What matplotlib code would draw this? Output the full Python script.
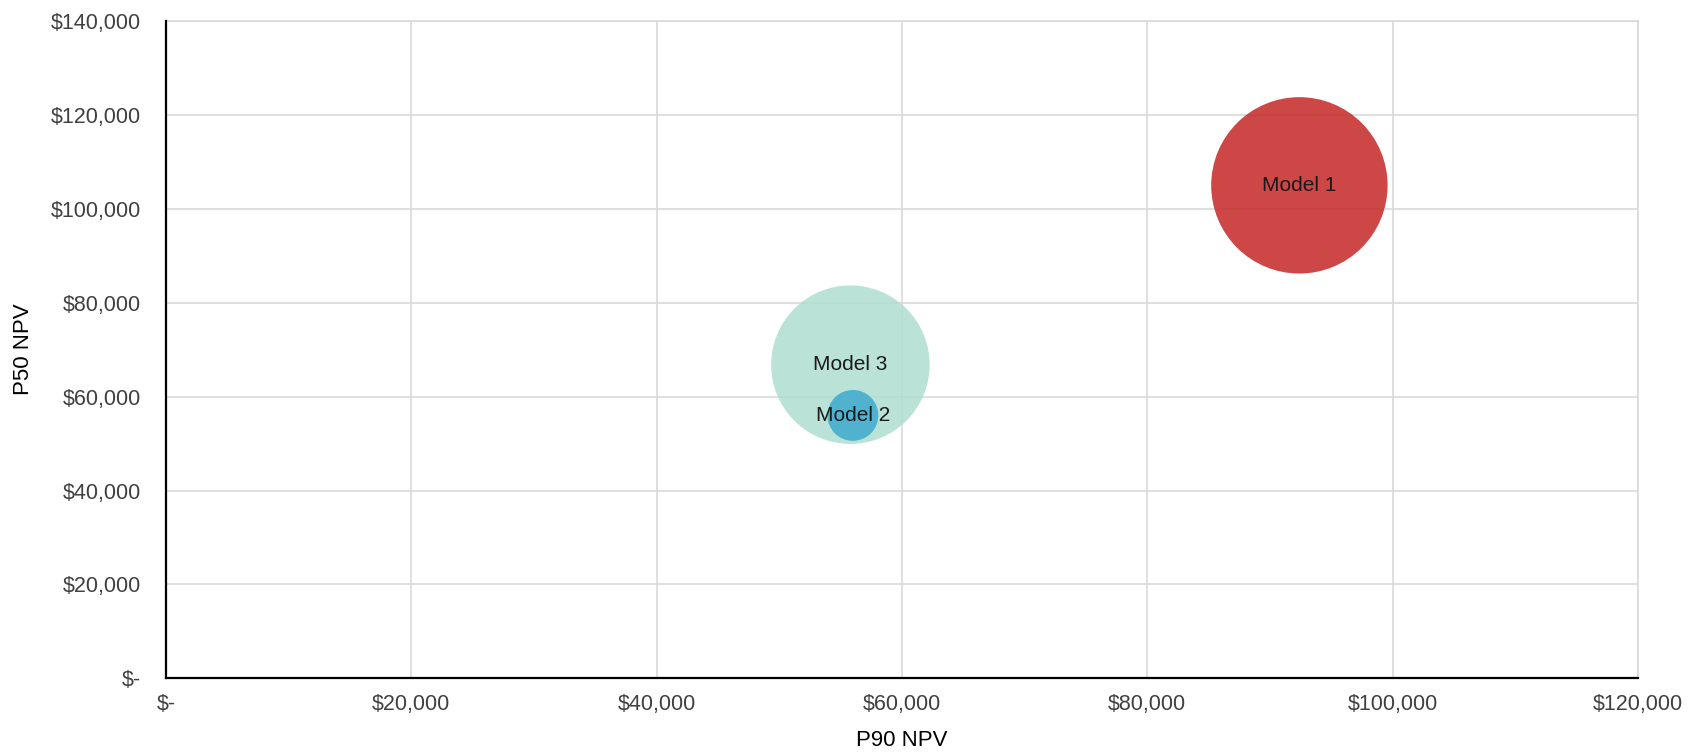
import matplotlib.pyplot as plt
from matplotlib.ticker import FuncFormatter, MultipleLocator

plt.rcParams['font.family'] = ['Liberation Sans', 'DejaVu Sans']

# bubble data: P90 NPV (x), P50 NPV (y), bubble size (relative)
models = ['Model 1', 'Model 2', 'Model 3']
p90_npv = [92400, 56000, 55800]
p50_npv = [105000, 56000, 66800]
bubble_size = [78000, 6500, 63000]
colors = ['#C52D2B', '#43ACD0', '#B2DED2']

# draw the biggest bubbles first so small ones stay visible
order = [0, 2, 1]

# largest bubble diameter in points
max_diam = 127.0
scale = max_diam ** 2 / max(bubble_size)


def money(v, pos=None):
    if v == 0:
        return '$-'
    return '${:,.0f}'.format(v)


fig = plt.figure(figsize=(17, 7.54), dpi=100)
ax = fig.add_axes([0.0976, 0.1004, 0.8659, 0.8717])

for i in order:
    ax.scatter(p90_npv[i], p50_npv[i], s=bubble_size[i] * scale,
               color=colors[i], alpha=0.88, edgecolors='none', zorder=3)
for i in order:
    ax.text(p90_npv[i], p50_npv[i], models[i], ha='center', va='center',
            fontsize=15, color='#1a1a1a', zorder=4)

ax.set_xlim(0, 120000)
ax.set_ylim(0, 140000)
ax.xaxis.set_major_locator(MultipleLocator(20000))
ax.yaxis.set_major_locator(MultipleLocator(20000))
ax.xaxis.set_major_formatter(FuncFormatter(money))
ax.yaxis.set_major_formatter(FuncFormatter(money))

ax.grid(True, color='#D9D9D9', linewidth=1.2)
ax.set_axisbelow(True)
ax.tick_params(axis='both', length=0, labelsize=15.5, labelcolor='#404040')
ax.tick_params(axis='x', pad=11)
ax.tick_params(axis='y', pad=18)

for side in ['top', 'right']:
    ax.spines[side].set_color('#D9D9D9')
    ax.spines[side].set_linewidth(1.2)
for side in ['left', 'bottom']:
    ax.spines[side].set_color('black')
    ax.spines[side].set_linewidth(1.6)
    ax.spines[side].set_zorder(5)

ax.set_xlabel('P90 NPV', fontsize=16, color='black', labelpad=11)
ax.set_ylabel('P50 NPV', fontsize=16, color='black', labelpad=12)

fig.savefig('out.png', dpi=100)
